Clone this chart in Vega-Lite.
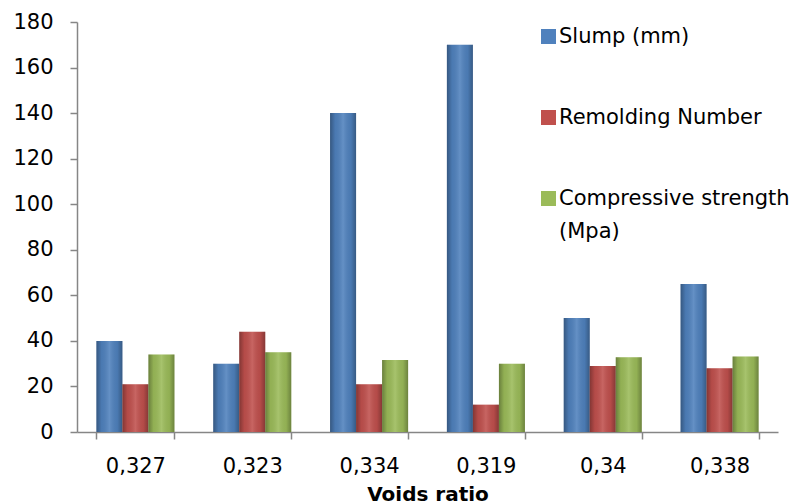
{
  "$schema": "https://vega.github.io/schema/vega-lite/v6.json",
  "width": 701,
  "height": 410,
  "autosize": "none",
  "padding": {"left": 77, "top": 22, "right": 20, "bottom": 72},
  "background": "white",
  "config": {
    "view": {"stroke": null},
    "font": "DejaVu Sans",
    "style": {"guide-label": {"lineHeight": 33}},
    "axis": {
      "domainColor": "#868686",
      "domainWidth": 1.5,
      "tickColor": "#868686",
      "tickWidth": 1.5,
      "labelColor": "#000000",
      "labelFontSize": 21,
      "labelFont": "DejaVu Sans",
      "grid": false
    }
  },
  "data": {
    "values": [
      {"ratio": "0,327", "series": "Slump (mm)", "value": 40},
      {"ratio": "0,327", "series": "Remolding Number", "value": 21},
      {"ratio": "0,327", "series": "Compressive strength (Mpa)", "value": 34},
      {"ratio": "0,323", "series": "Slump (mm)", "value": 30},
      {"ratio": "0,323", "series": "Remolding Number", "value": 44},
      {"ratio": "0,323", "series": "Compressive strength (Mpa)", "value": 35},
      {"ratio": "0,334", "series": "Slump (mm)", "value": 140},
      {"ratio": "0,334", "series": "Remolding Number", "value": 21},
      {"ratio": "0,334", "series": "Compressive strength (Mpa)", "value": 31.6},
      {"ratio": "0,319", "series": "Slump (mm)", "value": 170},
      {"ratio": "0,319", "series": "Remolding Number", "value": 12},
      {"ratio": "0,319", "series": "Compressive strength (Mpa)", "value": 30},
      {"ratio": "0,34", "series": "Slump (mm)", "value": 50},
      {"ratio": "0,34", "series": "Remolding Number", "value": 29},
      {"ratio": "0,34", "series": "Compressive strength (Mpa)", "value": 32.8},
      {"ratio": "0,338", "series": "Slump (mm)", "value": 65},
      {"ratio": "0,338", "series": "Remolding Number", "value": 28},
      {"ratio": "0,338", "series": "Compressive strength (Mpa)", "value": 33.2}
    ]
  },
  "encoding": {
    "x": {
      "field": "ratio",
      "type": "nominal",
      "sort": null,
      "scale": {"paddingInner": 0.332, "paddingOuter": 0.166},
      "axis": {
        "title": "Voids ratio",
        "titleFont": "DejaVu Sans",
        "titleFontSize": 20,
        "titleFontWeight": "bold",
        "titleColor": "#000000",
        "titlePadding": 8,
        "labelAngle": 0,
        "tickBand": "extent",
        "tickSize": 7,
        "labelPadding": 16
      }
    },
    "xOffset": {
      "field": "series",
      "type": "nominal",
      "sort": ["Slump (mm)", "Remolding Number", "Compressive strength (Mpa)"]
    },
    "y": {
      "field": "value",
      "type": "quantitative",
      "scale": {"domain": [0, 180], "nice": false},
      "axis": {
        "title": null,
        "values": [0, 20, 40, 60, 80, 100, 120, 140, 160, 180],
        "tickSize": 7,
        "labelPadding": 17
      }
    }
  },
  "layer": [
    {
      "mark": {"type": "bar"},
      "encoding": {
        "color": {
          "field": "series",
          "type": "nominal",
          "sort": ["Slump (mm)", "Remolding Number", "Compressive strength (Mpa)"],
          "scale": {
            "domain": ["Slump (mm)", "Remolding Number", "Compressive strength (Mpa)"],
            "range": ["#4F81BD", "#C0504D", "#9BBB59"]
          },
          "legend": {
            "title": null,
            "orient": "none",
            "legendX": 461,
            "legendY": 4,
            "padding": 0,
            "symbolType": "square",
            "symbolSize": 225,
            "symbolStrokeWidth": 0,
            "labelFont": "DejaVu Sans",
            "labelFontSize": 21,
            "labelColor": "#000000",
            "labelOffset": 0,
            "labelLimit": 400,
            "rowPadding": 59,
            "labelExpr": "datum.label == 'Compressive strength (Mpa)' ? ['Compressive strength', '(Mpa)'] : datum.label"
          }
        }
      }
    },
    {
      "mark": {
        "type": "bar",
        "color": {
          "gradient": "linear",
          "x1": 0, "y1": 0, "x2": 1, "y2": 0,
          "stops": [
            {"offset": 0, "color": "rgba(0,0,0,0.32)"},
            {"offset": 0.2, "color": "rgba(0,0,0,0.06)"},
            {"offset": 0.5, "color": "rgba(255,255,255,0.12)"},
            {"offset": 0.8, "color": "rgba(0,0,0,0.06)"},
            {"offset": 1, "color": "rgba(0,0,0,0.3)"}
          ]
        }
      }
    }
  ]
}
